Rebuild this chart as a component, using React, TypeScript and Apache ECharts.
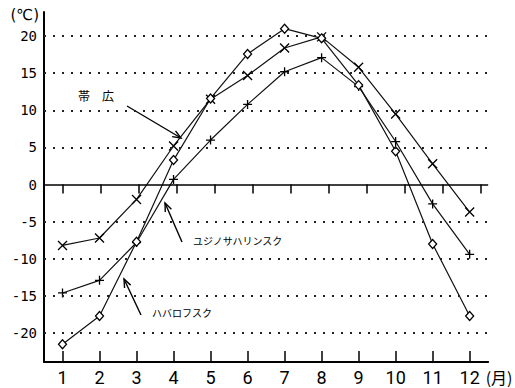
import React, { useEffect, useRef } from "react";
import * as echarts from "echarts";

const months = ["1", "2", "3", "4", "5", "6", "7", "8", "9", "10", "11", "12"];
const obihiro = [-8.2, -7.2, -2.0, 5.2, 11.5, 14.7, 18.4, 19.9, 15.8, 9.5, 2.8, -3.7];
const yuzhno = [-14.6, -12.9, -7.8, 0.7, 6.0, 10.8, 15.2, 17.1, 13.2, 5.8, -2.6, -9.4];
const khabarovsk = [-21.5, -17.7, -7.7, 3.3, 11.6, 17.6, 21.0, 19.7, 13.4, 4.5, -8.0, -17.7];
const yTicks = [-20, -15, -10, -5, 0, 5, 10, 15, 20];
const gridValues = [-20, -15, -10, -5, 5, 10, 15, 20];

const CROSS = "path://M0,0L10,10M0,10L10,0";
const PLUS = "path://M5,0L5,10M0,5L10,5";

function arrow(x1: number, y1: number, x2: number, y2: number) {
  const ang = Math.atan2(y2 - y1, x2 - x1);
  const len = 9;
  const spread = 0.38;
  const a1 = ang + Math.PI - spread;
  const a2 = ang + Math.PI + spread;
  return {
    type: "group",
    silent: true,
    children: [
      { type: "line", shape: { x1, y1, x2, y2 }, style: { stroke: "#000", lineWidth: 1.4 } },
      {
        type: "polyline",
        shape: {
          points: [
            [x2 + len * Math.cos(a1), y2 + len * Math.sin(a1)],
            [x2, y2],
            [x2 + len * Math.cos(a2), y2 + len * Math.sin(a2)],
          ],
        },
        style: { stroke: "#000", lineWidth: 1.4, fill: "none" },
      },
    ],
  };
}

export default function App() {
  const ref = useRef<HTMLDivElement>(null);
  useEffect(() => {
    if (!ref.current) return;
    const chart = echarts.init(ref.current, null, { renderer: "svg" });
    const gridPos = { left: 44, right: 15, top: 12, bottom: 26 };
    const lineSeries = (name: string, data: number[], symbol: string, size: number | number[], fill = "#000") => ({
      name,
      type: "line",
      data,
      xAxisIndex: 0,
      yAxisIndex: 0,
      symbol,
      symbolSize: size,
      showAllSymbol: true,
      lineStyle: { color: "#111", width: 1.2 },
      itemStyle: { color: fill, borderColor: "#000", borderWidth: 1.3 },
      z: 3,
    });
    chart.setOption({
      animation: false,
      backgroundColor: "#fff",
      grid: [
        { ...gridPos, containLabel: false },
        { ...gridPos, containLabel: false },
      ],
      xAxis: [
        {
          type: "category",
          gridIndex: 0,
          data: months,
          boundaryGap: true,
          axisLine: { show: true, onZero: false, lineStyle: { color: "#000", width: 2 } },
          axisTick: { show: true, inside: true, length: 11, alignWithLabel: true, lineStyle: { color: "#000", width: 1.5 } },
          axisLabel: {
            margin: 6,
            fontSize: 18,
            lineHeight: 18,
            fontFamily: "Roboto",
            color: "#000",
            interval: 0,
          },
          name: "(月)",
          nameLocation: "end",
          nameGap: -11,
          nameTextStyle: {
            fontSize: 16,
            fontFamily: "Noto Sans CJK JP",
            color: "#000",
            align: "left",
            verticalAlign: "top",
            lineHeight: 17,
            padding: [6, 0, 0, 0],
          },
          splitLine: { show: false },
        },
        {
          type: "category",
          gridIndex: 1,
          data: months,
          boundaryGap: true,
          axisLine: { show: false },
          axisTick: { show: true, inside: false, length: 9, alignWithLabel: true, lineStyle: { color: "#000", width: 1.5 } },
          axisLabel: { show: false },
          splitLine: { show: false },
        },
      ],
      yAxis: [
        {
          type: "value",
          gridIndex: 0,
          min: -23.9,
          max: 23.25,
          axisLine: { show: true, lineStyle: { color: "#000", width: 2 } },
          axisTick: { show: false },
          splitLine: { show: false },
          axisLabel: {
            customValues: yTicks,
            margin: 7,
            fontSize: 14,
            fontFamily: "DejaVu Sans Mono",
            color: "#000",
          },
          name: "(℃)",
          nameLocation: "end",
          nameGap: -3,
          nameTextStyle: {
            fontSize: 15,
            fontFamily: "DejaVu Sans",
            color: "#000",
            align: "right",
            verticalAlign: "middle",
            padding: [0, 5, 0, 0],
          },
        },
        {
          type: "value",
          gridIndex: 1,
          min: -23.9,
          max: 23.25,
          show: false,
        },
      ],
      series: [
        {
          ...lineSeries("帯広", obihiro, CROSS, 9),
          markLine: {
            silent: true,
            symbol: "none",
            label: { show: false },
            data: [
              ...gridValues.map((v) => ({
                yAxis: v,
                lineStyle: { color: "#222", width: 2, type: [2, 7] },
              })),
              { yAxis: 0, lineStyle: { color: "#000", width: 1.5, type: "solid" } },
            ],
          },
        },
        lineSeries("ユジノサハリンスク", yuzhno, PLUS, 9),
        lineSeries("ハバロフスク", khabarovsk, "diamond", [8, 9], "#fff"),
      ],
      graphic: [
        {
          type: "text",
          left: 78,
          top: 89,
          style: { text: "帯　広", fontSize: 12, fontFamily: "Noto Sans CJK JP", fill: "#000" },
        },
        {
          type: "text",
          left: 193,
          top: 235,
          style: { text: "ユジノサハリンスク", fontSize: 10, fontFamily: "Noto Sans CJK JP", fill: "#000" },
        },
        {
          type: "text",
          left: 152,
          top: 307,
          style: { text: "ハバロフスク", fontSize: 10, fontFamily: "Noto Sans CJK JP", fill: "#000" },
        },
        arrow(127, 106, 181, 138),
        arrow(182, 242, 165, 203),
        arrow(141, 315, 124, 279),
      ],
    });
    return () => chart.dispose();
  }, []);
  return (
    <div
      ref={ref}
      style={{ position: "absolute", left: 0, top: 0, width: 515, height: 388, background: "#fff" }}
    />
  );
}
